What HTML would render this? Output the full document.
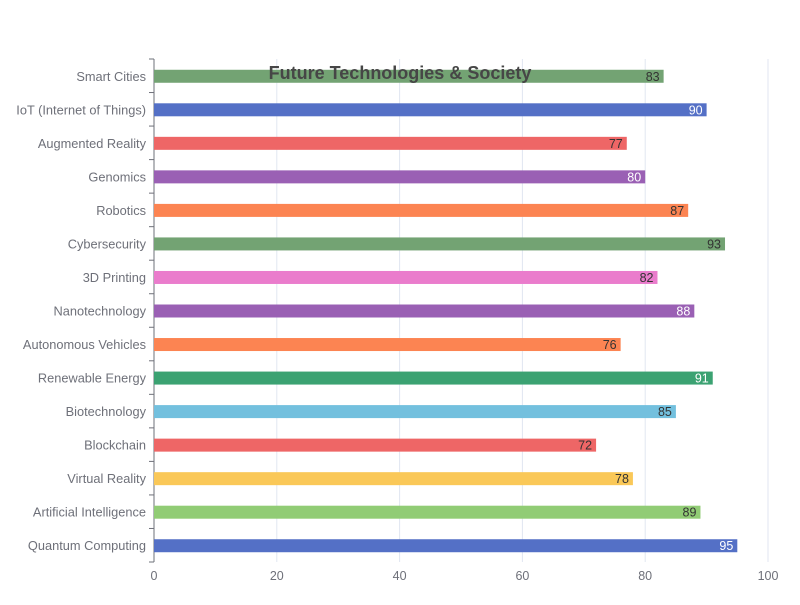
<!DOCTYPE html>
<html><head><meta charset="utf-8"><style>
body{margin:0;background:#fff;font-family:"Liberation Sans",sans-serif}
</style></head><body>
<svg id="c" width="800" height="600" xmlns="http://www.w3.org/2000/svg"></svg>
<script>
const categories=["Quantum Computing","Artificial Intelligence","Virtual Reality","Blockchain","Biotechnology","Renewable Energy","Autonomous Vehicles","Nanotechnology","3D Printing","Cybersecurity","Robotics","Genomics","Augmented Reality","IoT (Internet of Things)","Smart Cities"];
const values=[95,89,78,72,85,91,76,88,82,93,87,80,77,90,83];
const colors=["#5470c6","#91cc75","#fac858","#ee6666","#73c0de","#3ba272","#fc8452","#9a60b4","#ea7ccc","#73a373","#fc8452","#9a60b4","#ee6666","#5470c6","#73a373"];
const labelColors=["#fff","#333","#333","#333","#333","#fff","#333","#fff","#333","#333","#333","#fff","#333","#fff","#333"];
const xTicks=[0,20,40,60,80,100];
const NS="http://www.w3.org/2000/svg",svg=document.getElementById('c');
const L=154,R=768,T=59,B=562;
const x=v=>L+(v/100)*(R-L);
const band=(B-T)/categories.length;
const yc=i=>B-band*(i+0.5);
function mk(t,a,txt){const e=document.createElementNS(NS,t);for(const k in a)e.setAttribute(k,a[k]);if(txt!==undefined)e.textContent=txt;svg.appendChild(e);return e;}
xTicks.forEach(v=>{
 if(v>0){const g=mk('line',{x1:x(v),x2:x(v),y1:T,y2:B,stroke:'#e0e6f1'});
 
 }
 const t=mk('text',{x:x(v),y:B+18,'text-anchor':'middle','font-size':12.5,fill:'#6e7079'},v);
 
 
});
const ax=mk('line',{x1:L,x2:L,y1:T,y2:B,stroke:'#6e7079'});


for(let i=0;i<=categories.length;i++){const yy=B-band*i;const tk=mk('line',{x1:L-5,x2:L,y1:yy,y2:yy,stroke:'#6e7079'});
 
 }
categories.forEach((c,i)=>{
 const t=mk('text',{x:L-8,y:yc(i)+5,'text-anchor':'end','font-size':12.8,fill:'#6e7079'},c);
 
 
 const r=mk('rect',{x:L,y:yc(i)-6,width:x(values[i])-L,height:13,fill:colors[i]});
 
 
 const v=mk('text',{x:x(values[i])-4,y:yc(i)+5,'text-anchor':'end','font-size':12.5,fill:labelColors[i]},values[i]);
 
 
});
const ti=mk('text',{x:400,y:79,'text-anchor':'middle','font-size':18,'font-weight':'bold',fill:'#464646'},'Future Technologies & Society');


</script>
</body></html>
